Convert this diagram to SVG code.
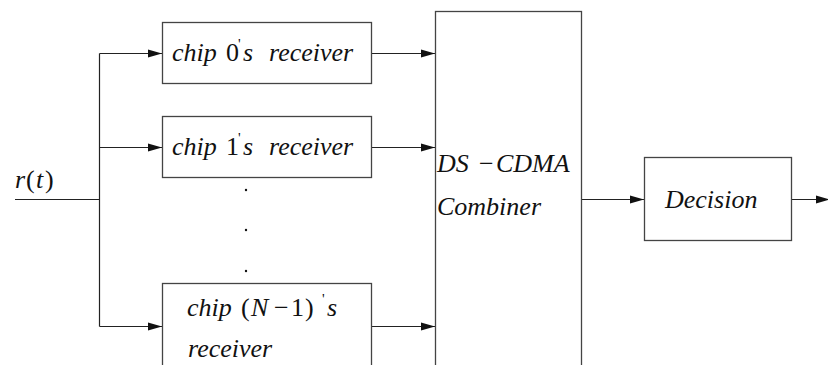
<svg xmlns="http://www.w3.org/2000/svg" width="828" height="365" viewBox="0 0 828 365">
  <defs>
    <marker id="arrow" markerWidth="14" markerHeight="10" refX="14" refY="5" orient="auto" markerUnits="userSpaceOnUse">
      <path d="M0,1 L14,5 L0,9 Z" fill="#111"/>
    </marker>
    <style>
      .box { fill: none; stroke: #444; stroke-width: 1.3; }
      .wire { fill: none; stroke: #222; stroke-width: 1.2; }
      .dot { fill: #111; }
    </style>
  </defs>
  <rect width="828" height="365" fill="#ffffff"/>

  <!-- connectors -->
  <g id="connectors">
    <path class="wire" d="M15,199.5 H99.5"/>
    <path class="wire" d="M99.5,53.5 V326.5"/>
    <path class="wire" d="M99.5,53.5 H162" marker-end="url(#arrow)"/>
    <path class="wire" d="M99.5,147.5 H162" marker-end="url(#arrow)"/>
    <path class="wire" d="M99.5,326.5 H162" marker-end="url(#arrow)"/>
    <path class="wire" d="M372,53.5 H435" marker-end="url(#arrow)"/>
    <path class="wire" d="M372,147.5 H435" marker-end="url(#arrow)"/>
    <path class="wire" d="M372,326.5 H435" marker-end="url(#arrow)"/>
    <path class="wire" d="M582,199.5 H644" marker-end="url(#arrow)"/>
    <path class="wire" d="M792,199.5 H830" marker-end="url(#arrow)"/>
  </g>

  <!-- input signal label -->
  <g id="input">
    <text y="188" font-family="Liberation Serif" font-size="26" fill="#111"><tspan font-style="italic" x="15">r</tspan><tspan x="26">(</tspan><tspan font-style="italic" x="36">t</tspan><tspan x="45">)</tspan></text>
  </g>

  <!-- per-chip receivers -->
  <g id="chip0">
    <rect class="box" x="162.5" y="22.5" width="209" height="61"/>
    <text y="61" font-family="Liberation Serif" font-size="26" fill="#111"><tspan font-style="italic" x="172">chip</tspan><tspan x="226">0</tspan><tspan font-size="15" x="238" dy="-12">'</tspan><tspan font-style="italic" x="243" dy="12">s</tspan><tspan font-style="italic" x="269">receiver</tspan></text>
  </g>
  <g id="chip1">
    <rect class="box" x="162.5" y="116.5" width="209" height="61"/>
    <text y="155" font-family="Liberation Serif" font-size="26" fill="#111"><tspan font-style="italic" x="172">chip</tspan><tspan x="226">1</tspan><tspan font-size="15" x="238" dy="-12">'</tspan><tspan font-style="italic" x="243" dy="12">s</tspan><tspan font-style="italic" x="269">receiver</tspan></text>
  </g>
  <g id="ellipsis">
    <circle class="dot" cx="246" cy="190" r="1.2"/>
    <circle class="dot" cx="246" cy="230" r="1.2"/>
    <circle class="dot" cx="246" cy="271" r="1.2"/>
  </g>
  <g id="chipN">
    <rect class="box" x="162.5" y="283.5" width="209" height="90"/>
    <text y="316" font-family="Liberation Serif" font-size="26" fill="#111"><tspan font-style="italic" x="187">chip</tspan><tspan x="241">(</tspan><tspan font-style="italic" x="251">N</tspan><tspan x="274">&#8722;</tspan><tspan x="291">1</tspan><tspan x="305">)</tspan><tspan font-size="15" x="322" dy="-12">'</tspan><tspan font-style="italic" x="327" dy="12">s</tspan></text>
    <text x="188" y="357" font-family="Liberation Serif" font-size="26" font-style="italic" fill="#111">receiver</text>
  </g>

  <!-- combiner -->
  <g id="combiner">
    <rect class="box" x="435.5" y="11.5" width="146" height="370"/>
    <text y="172" font-family="Liberation Serif" font-size="26" fill="#111"><tspan font-style="italic" x="437">DS</tspan><tspan x="479">&#8722;</tspan><tspan font-style="italic" x="496">CDMA</tspan></text>
    <text x="437" y="215" font-family="Liberation Serif" font-size="26" font-style="italic" fill="#111">Combiner</text>
  </g>

  <!-- decision -->
  <g id="decision">
    <rect class="box" x="644.5" y="157.5" width="147" height="83"/>
    <text x="665" y="208" font-family="Liberation Serif" font-size="26" font-style="italic" fill="#111">Decision</text>
  </g>
</svg>
